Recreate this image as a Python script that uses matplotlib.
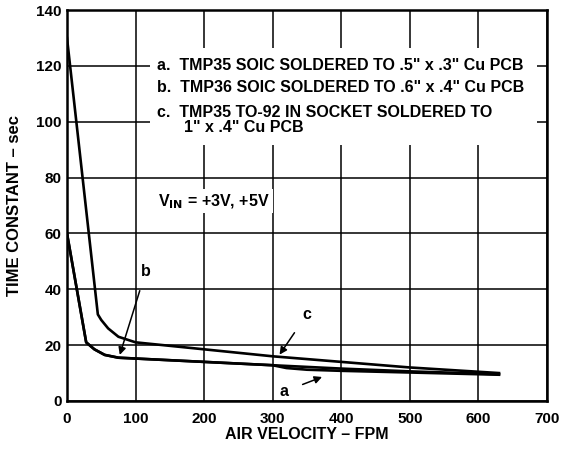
import numpy as np
import matplotlib
matplotlib.use("Agg")
import matplotlib.pyplot as plt

plt.rcParams['font.family'] = ['Liberation Sans', 'DejaVu Sans']
plt.rcParams['font.weight'] = 'bold'

# curve c: TMP35 TO-92 in socket
c_x = [0, 45, 50, 60, 75, 100, 300, 400, 500, 630]
c_y = [130, 31, 29, 26, 23, 21, 16, 14, 12, 10]

# curve b: TMP36 SOIC
b_x = [0, 28, 40, 55, 75, 100, 200, 300, 400, 500, 630]
b_y = [60, 21, 18.5, 16.5, 15.5, 15.2, 14, 12.8, 11.6, 10.6, 9.6]

# curve a: TMP35 SOIC (same as b up to 300)
a_x = [0, 28, 40, 55, 75, 100, 200, 300, 320, 350, 400, 500, 630]
a_y = [60, 21, 18.5, 16.5, 15.5, 15.2, 14, 12.8, 11.8, 11.2, 10.8, 10.2, 9.4]

legend_lines = [
    'a.  TMP35 SOIC SOLDERED TO .5" x .3" Cu PCB',
    'b.  TMP36 SOIC SOLDERED TO .6" x .4" Cu PCB',
    'c.  TMP35 TO-92 IN SOCKET SOLDERED TO\n      1" x .4" Cu PCB',
]

fig = plt.figure(figsize=(5.61, 4.51), dpi=100)
ax = fig.add_axes([0.1194, 0.1109, 0.8556, 0.8669])

ax.plot(c_x, c_y, color='black', lw=1.9, zorder=3)
ax.plot(b_x, b_y, color='black', lw=1.9, zorder=3)
ax.plot(a_x, a_y, color='black', lw=1.9, zorder=3)

ax.set_xlim(0, 700)
ax.set_ylim(0, 140)
ax.set_xticks(np.arange(0, 701, 100))
ax.set_yticks(np.arange(0, 141, 20))
ax.grid(True, color='black', lw=1.1)
ax.tick_params(length=0, labelsize=11)
ax.tick_params(axis='x', pad=8)
ax.tick_params(axis='y', pad=4)
for lbl in ax.get_xticklabels() + ax.get_yticklabels():
    lbl.set_fontweight('bold')
for s in ax.spines.values():
    s.set_linewidth(1.8)

ax.set_xlabel('AIR VELOCITY – FPM', fontsize=11.5, fontweight='bold', labelpad=1)
ax.set_ylabel('TIME CONSTANT – sec', fontsize=12, fontweight='bold', labelpad=10)

# white box behind the description text
ax.add_patch(plt.Rectangle((121, 91.5), 565, 35, facecolor='white',
                           edgecolor='none', zorder=2))
ax.text(131, 120.3, legend_lines[0], fontsize=11.5, fontweight='bold', va='center', zorder=4)
ax.text(131, 112.3, legend_lines[1], fontsize=11.5, fontweight='bold', va='center', zorder=4)
ax.text(131, 100.6, legend_lines[2], fontsize=11.5, fontweight='bold', va='center',
        linespacing=1.05, zorder=4)

ax.text(133, 71.5, r'V$_{\mathbf{IN}}$ = +3V, +5V', fontsize=11.5, fontweight='bold',
        va='center', zorder=4,
        bbox=dict(facecolor='white', edgecolor='none', pad=2))

arrow = dict(arrowstyle='-|>', color='black', lw=1.1, mutation_scale=11)
ax.annotate('b', xy=(77, 16.5), xytext=(115, 46.5), fontsize=11.5, fontweight='bold',
            ha='center', va='center', arrowprops=dict(arrow, shrinkA=7, shrinkB=0), zorder=4)
ax.annotate('c', xy=(310, 16.6), xytext=(350, 31), fontsize=11.5, fontweight='bold',
            ha='center', va='center', arrowprops=dict(arrow, shrinkA=7, shrinkB=0), zorder=4)
ax.annotate('a', xy=(372, 8.6), xytext=(316, 3.3), fontsize=11.5, fontweight='bold',
            ha='center', va='center', arrowprops=dict(arrow, shrinkA=9, shrinkB=0), zorder=4)

fig.savefig('out.png', dpi=100)
